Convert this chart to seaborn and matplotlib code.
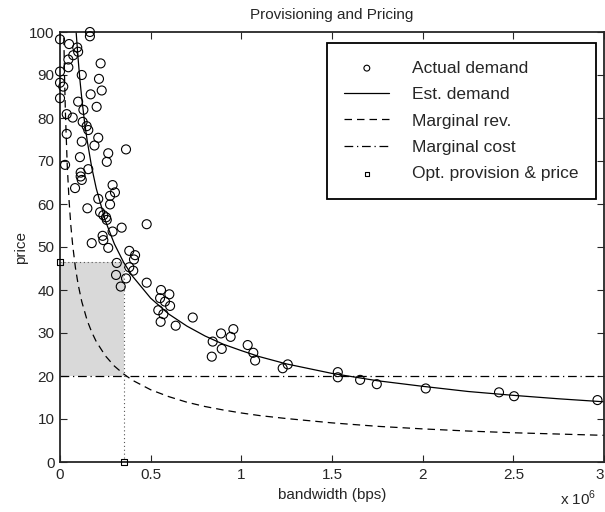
import matplotlib
matplotlib.use("Agg")
import matplotlib.pyplot as plt
import pandas as pd
import seaborn as sns

# observed demand (bandwidth in 1e6 bps, price)
demand_bw = [
    0.165, 0.165, 0.0, 0.05, 0.095, 0.10, 0.073, 0.046, 0.224, 0.046,
    0.0, 0.12, 0.215, 0.0, 0.018, 0.23, 0.169, 0.0, 0.10, 0.129,
    0.202, 0.037, 0.07, 0.125, 0.147, 0.156, 0.037, 0.211, 0.12, 0.19,
    0.364, 0.266, 0.11, 0.258, 0.028, 0.156, 0.114, 0.114, 0.12, 0.29,
    0.083, 0.303, 0.276, 0.211, 0.276, 0.151, 0.221, 0.239, 0.254, 0.258,
    0.478, 0.29, 0.34, 0.235, 0.239, 0.175, 0.266, 0.382, 0.414, 0.408,
    0.313, 0.382, 0.404, 0.309, 0.364, 0.478, 0.335, 0.557, 0.603, 0.552,
    0.579, 0.607, 0.542, 0.57, 0.555, 0.732, 0.638, 0.956, 0.888, 0.941,
    0.842, 0.892, 0.837, 1.035, 1.066, 1.076, 1.228, 1.256, 1.532, 1.532,
    1.655, 1.747, 2.017, 2.421, 2.504, 2.964,
]
demand_price = [
    100.0, 99.0, 98.3, 97.2, 96.4, 95.4, 94.6, 93.6, 92.7, 91.8,
    90.8, 90.0, 89.1, 88.2, 87.3, 86.4, 85.5, 84.6, 83.8, 81.9,
    82.6, 80.9, 80.1, 79.1, 78.1, 77.2, 76.3, 75.4, 74.5, 73.6,
    72.7, 71.8, 70.9, 69.8, 69.1, 68.1, 67.3, 66.4, 65.6, 64.4,
    63.7, 62.7, 61.9, 61.2, 59.9, 59.0, 58.1, 57.4, 56.9, 56.3,
    55.3, 53.6, 54.5, 52.6, 51.6, 50.9, 49.8, 49.1, 48.1, 47.1,
    46.3, 45.3, 44.5, 43.5, 42.7, 41.7, 40.8, 40.0, 39.0, 38.1,
    37.3, 36.3, 35.3, 34.4, 32.6, 33.6, 31.7, 30.9, 29.9, 29.1,
    28.0, 26.3, 24.5, 27.2, 25.4, 23.6, 21.8, 22.7, 20.9, 19.7,
    19.1, 18.1, 17.1, 16.2, 15.3, 14.4,
]

# estimated demand curve
est_bw = [0.085, 0.09, 0.1, 0.11, 0.12, 0.135, 0.15, 0.175, 0.2, 0.25, 0.3,
          0.35, 0.4, 0.5, 0.6, 0.7, 0.8, 0.9, 1.0, 1.1, 1.25, 1.5, 1.75, 2.0,
          2.25, 2.5, 2.75, 3.0]
est_price = [102.6, 99.4, 93.7, 88.8, 84.6, 79.2, 74.7, 68.5, 63.6, 56.1, 50.7,
             46.5, 43.2, 38.1, 34.4, 31.6, 29.3, 27.4, 25.9, 24.5, 22.8, 20.6,
             18.9, 17.6, 16.4, 15.5, 14.7, 14.0]

# marginal revenue curve
mr_bw = [0.02, 0.025, 0.03, 0.04, 0.05, 0.06, 0.07, 0.085, 0.1, 0.12, 0.15,
         0.175, 0.2, 0.25, 0.3, 0.35, 0.4, 0.5, 0.6, 0.7, 0.8, 0.9, 1.0, 1.1,
         1.25, 1.5, 1.75, 2.0, 2.25, 2.5, 2.75, 3.0]
mr_price = [101.6, 89.6, 81.0, 68.9, 60.8, 54.9, 50.4, 45.2, 41.3, 37.3, 32.9,
            30.2, 28.0, 24.7, 22.3, 20.5, 19.0, 16.8, 15.2, 13.9, 12.9, 12.1,
            11.4, 10.8, 10.1, 9.1, 8.3, 7.7, 7.2, 6.8, 6.5, 6.2]

# marginal cost
mc_bw = [0.0, 3.0]
mc_price = [20.0, 20.0]

# optimum
opt_bw = 0.353
opt_price = 46.5

sns.set_style("ticks")
plt.rcParams["font.family"] = ["Liberation Sans", "DejaVu Sans"]
plt.rcParams["mathtext.fontset"] = "custom"
plt.rcParams["mathtext.rm"] = "Liberation Sans"

fig = plt.figure(figsize=(6.05, 5.12), dpi=100)
ax = fig.add_axes([60 / 605, 50 / 512, 544 / 605, 430 / 512])

# shaded profit region
ax.fill_between([0, opt_bw], [mc_price[0]] * 2, [opt_price] * 2,
                color="#d9d9d9", lw=0, zorder=0)
ax.plot([0, opt_bw], [opt_price, opt_price], ls=(0, (1, 2.5)), color="#555555", lw=0.8)
ax.plot([opt_bw, opt_bw], [0, opt_price], ls=(0, (1, 2.5)), color="#555555", lw=0.8)

pts = pd.DataFrame({"bw": demand_bw, "price": demand_price})
sns.scatterplot(data=pts, x="bw", y="price", ax=ax, marker="o", s=42,
                facecolor="none", edgecolor="black", linewidth=0.8,
                label="Actual demand", clip_on=False, zorder=3)

sns.lineplot(x=est_bw, y=est_price, ax=ax, color="black", lw=0.9,
             label="Est. demand", sort=False)
sns.lineplot(x=mr_bw, y=mr_price, ax=ax, color="black", lw=0.9,
             label="Marginal rev.", sort=False)
ax.lines[-1].set_linestyle((0, (6, 4)))
sns.lineplot(x=mc_bw, y=mc_price, ax=ax, color="black", lw=0.9,
             label="Marginal cost", sort=False)
ax.lines[-1].set_linestyle((0, (7, 3, 1, 3)))

sns.scatterplot(x=[0, opt_bw], y=[opt_price, 0], ax=ax, marker="s", s=22,
                facecolor="none", edgecolor="black", linewidth=0.8,
                label="Opt. provision & price", clip_on=False, zorder=4)

ax.set_xlim(0, 3)
ax.set_ylim(0, 100)
ax.set_xticks([0, 0.5, 1, 1.5, 2, 2.5, 3])
ax.set_xticklabels(["0", "0.5", "1", "1.5", "2", "2.5", "3"])
ax.get_xticklabels()[-1].set_horizontalalignment("right")
ax.set_yticks(range(0, 101, 10))
ax.tick_params(direction="in", top=True, right=True, length=5, width=0.8,
               labelsize=11, pad=4)
for sp in ax.spines.values():
    sp.set_visible(True)
    sp.set_linewidth(1.3)

ax.set_title("Provisioning and Pricing", fontsize=11, pad=9)
ax.set_xlabel("bandwidth (bps)", fontsize=11, labelpad=5)
ax.set_ylabel("price", fontsize=11, labelpad=1)
fig.text(560 / 605, 4 / 512, r"x 10$^{6}$", fontsize=11, ha="left", va="bottom")

handles, labels = ax.get_legend_handles_labels()
leg = ax.legend(handles, labels, loc="upper right", bbox_to_anchor=(0.985, 0.974),
                borderaxespad=0, fancybox=False, edgecolor="black", framealpha=1,
                fontsize=12.5, handlelength=2.6, handletextpad=1.3, labelspacing=0.65,
                borderpad=1.0, markerscale=0.65)
leg.get_frame().set_linewidth(1.3)

fig.savefig("out.png", dpi=100)
